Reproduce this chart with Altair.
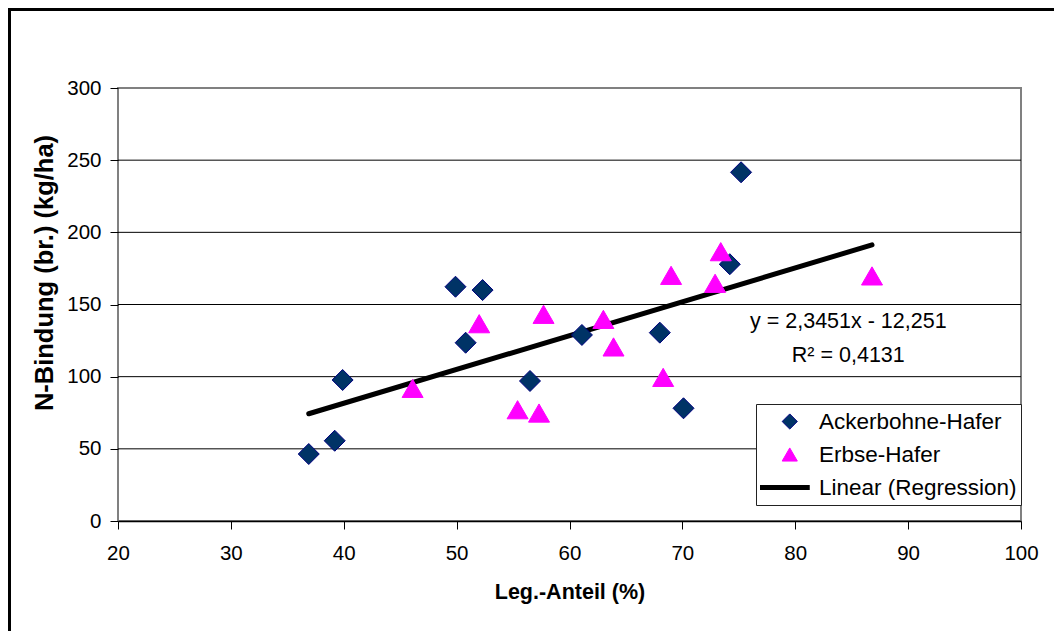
import altair as alt
import pandas as pd

# ---- data ----
series_names = ["Ackerbohne-Hafer", "Erbse-Hafer", "Linear (Regression)"]

ab_x = [36.9, 39.2, 39.9, 49.9, 50.8, 52.3, 56.5, 61.1, 68.0, 70.1, 74.2, 75.2]
ab_y = [46.4, 55.6, 97.7, 162.3, 123.5, 160.0, 97.0, 128.9, 130.5, 78.1, 177.9, 241.6]

eh_x = [46.1, 52.0, 55.4, 57.3, 57.7, 63.0, 63.9, 68.3, 69.0, 72.9, 73.4, 86.8]
eh_y = [91.9, 136.7, 77.1, 74.8, 143.2, 139.7, 120.6, 99.5, 170.2, 164.7, 186.6, 169.8]

reg_x = [36.9, 86.8]
reg_y = [74.3, 191.3]

eq_lines = ["y = 2,3451x - 12,251", "R² = 0,4131"]
eq_x = [84.7]
eq_y = [133.4]

x_ticks = [20, 30, 40, 50, 60, 70, 80, 90, 100]
y_ticks = [0, 50, 100, 150, 200, 250, 300]
grid_y = [50, 100, 150, 200, 250]

FONT = "Liberation Sans"

pts = pd.DataFrame({
    "x": ab_x + eh_x,
    "y": ab_y + eh_y,
    "Serie": [series_names[0]] * len(ab_x) + [series_names[1]] * len(eh_x),
})
reg = pd.DataFrame({"x": reg_x, "y": reg_y})
grid = pd.DataFrame({"y": grid_y})
eq = pd.DataFrame({"x": eq_x, "y": eq_y, "t": [eq_lines]})
one = pd.DataFrame({"a": [0]})

xscale = alt.Scale(domain=[20, 100], nice=False, zero=False)
yscale = alt.Scale(domain=[0, 300], nice=False)

x_axis = alt.Axis(
    title="Leg.-Anteil (%)", values=x_ticks, grid=False,
    domain=True, domainColor="black", domainWidth=1.5,
    ticks=True, tickColor="black", tickSize=8, tickWidth=1,
    labelFont=FONT, labelFontSize=20.5, labelColor="black", labelPadding=14.5,
    labelFlush=False,
    titleFont=FONT, titleFontSize=21.5, titleFontWeight="bold", titleColor="black",
    titleBaseline="alphabetic", titleY=77,
)
y_axis = alt.Axis(
    title="N-Bindung (br.) (kg/ha)", values=y_ticks, grid=False,
    domain=False,
    ticks=True, tickColor="black", tickSize=8, tickWidth=1,
    labelFont=FONT, labelFontSize=20.5, labelColor="black", labelPadding=9,
    labelFlush=False,
    titleFont=FONT, titleFontSize=25.5, titleFontWeight="bold", titleColor="black",
    titleAngle=270, titleAlign="center", titleBaseline="alphabetic",
    titleX=-65.5, titleY=184.5,
)

X = alt.X("x:Q", scale=xscale, axis=x_axis)
Y = alt.Y("y:Q", scale=yscale, axis=y_axis)

is_line = "datum.value === 'Linear (Regression)'"
legend = alt.Legend(
    title=None,
    orient="none",
    legendX=638,
    legendY=316,
    padding=4,
    fillColor="white",
    strokeColor="#222222",
    symbolSize=alt.ExprRef(expr=f"{is_line} ? 2809 : 230"),
    symbolStrokeWidth=alt.ExprRef(expr=f"{is_line} ? 5 : 1"),
    symbolOffset=alt.ExprRef(expr=f"{is_line} ? 12 : 18.5"),
    symbolOpacity=1,
    clipHeight=27,
    rowPadding=6,
    labelOffset=alt.ExprRef(expr=f"{is_line} ? 24.5 : 18"),
    labelFont=FONT,
    labelFontSize=22.5,
    labelColor="black",
    labelLimit=400,
)

grid_layer = alt.Chart(grid).mark_rule(color="black", strokeWidth=1).encode(y=Y)

reg_layer = alt.Chart(reg).mark_line(color="black", strokeWidth=5, strokeCap="round").encode(
    x=X, y=Y
)

pts_layer = alt.Chart(pts).mark_point(filled=True, size=441, opacity=1, strokeWidth=1).encode(
    x=X,
    y=Y,
    color=alt.Color(
        "Serie:N",
        scale=alt.Scale(domain=series_names, range=["#003366", "#FF00FF", "#000000"]),
        legend=legend,
    ),
    shape=alt.Shape(
        "Serie:N",
        scale=alt.Scale(domain=series_names, range=["diamond", "triangle-up", "stroke"]),
        legend=legend,
    ),
    stroke=alt.Stroke(
        "Serie:N",
        scale=alt.Scale(domain=series_names, range=["#000080", "#FF00FF", "#000000"]),
        legend=legend,
    ),
    order=alt.Order("Serie:N"),
)

eq_layer = alt.Chart(eq).mark_text(
    align="center", baseline="alphabetic", font=FONT, fontSize=21.5,
    lineHeight=33.2, color="black",
).encode(x=X, y=Y, text="t")

frame_left = alt.Chart(one).mark_rule(color="black", strokeWidth=3).encode(
    x=alt.value(-108.5), y=alt.value(-78.5), y2=alt.value(560)
)
frame_top = alt.Chart(one).mark_rule(color="black", strokeWidth=3).encode(
    x=alt.value(-110), x2=alt.value(960), y=alt.value(-78.5)
)

chart = alt.layer(
    grid_layer, reg_layer, pts_layer, eq_layer, frame_left, frame_top
).properties(
    width=903,
    height=433,
    padding={"left": 110, "top": 80, "right": 33, "bottom": 110},
    autosize=alt.AutoSizeParams(type="none"),
    background="white",
).configure_view(
    stroke="#808080", strokeWidth=2
)

chart.save("out.html", embed_options={"renderer": "svg", "actions": False})
